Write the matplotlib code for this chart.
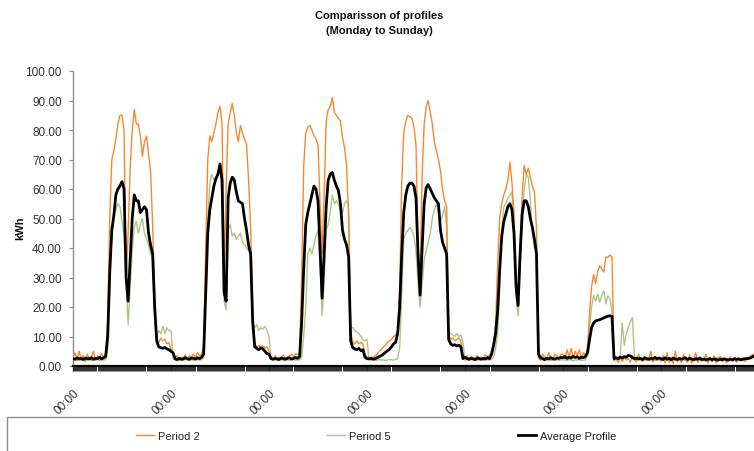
import matplotlib
matplotlib.use("Agg")
import matplotlib.pyplot as plt
from matplotlib.ticker import MultipleLocator, FixedLocator
from matplotlib.patches import Rectangle
import numpy as np

plt.rcParams['font.family'] = ['Liberation Sans', 'DejaVu Sans']

# Half-hourly values (48 per day), Monday .. Sunday
avg_mon = [2.5,2.3,2.8,2.4,2.6,2.2,2.7,2.5,2.4,2.8,2.3,2.6,2.5,2.9,2.4,2.8,
           3.2,10,32,46,51,58,60,61,62.5,60,30,22,36,50,58,56,56,52,53,54,53,45,41,38,20,8.5,6.5,6.2,6.0,6.3,5.8,5.5]
avg_tue = [5.0,4.5,2.5,2.2,2.6,2.3,2.4,2.8,2.5,2.3,2.7,2.6,2.4,2.8,2.5,3.0,
           4,25,45,53,57,61,63.5,65,68.5,63,25,22,57,62,64,63,59,56,55.5,55,50,46,41,38,15,6.5,6,5.5,6.2,5.8,5,4.2]
avg_wed = [4.0,2.5,2.3,2.6,2.4,2.2,2.7,2.5,2.3,2.6,2.8,2.4,2.5,2.9,2.6,3.2,
           15,33,48,52,55,58,61,60,56,40,23,38,54,63,65,65.6,63,61,59.5,55,46,43,41,37,8.6,6.2,5.8,5.5,6,5.2,5.5,3]
avg_thu = [2.5,2.4,2.6,2.3,2.5,2.8,3.2,3.5,4.0,4.6,5.2,5.6,6.5,7.5,8,11,
           20,38,52,58,61,62,62,61,57,38,24,40,55,60.5,61.5,60,58.5,57,56,55,46,42,40,38,9,7.5,7,7.2,6.8,7,6.5,2.5]
avg_fri = [3.0,2.5,2.3,2.6,2.4,2.2,2.7,2.5,2.3,2.6,2.4,2.8,2.5,4.0,7.0,11.0,
           19,33,44,49,51.5,54,55,53,45,27,20.5,38,51.5,56,56,54,50,47,43,38,4,2.8,2.5,2.2,2.6,2.4,2.8,2.5,2.3,2.7,2.6,2.9]
avg_sat = [2.8,3.2,2.6,3.0,2.7,3.3,2.9,3.1,2.6,3.0,2.8,3.2,4.5,9.0,13.0,14.6,
           15.3,15.5,15.7,16,16.3,16.6,16.9,17,16.8,2.5,2.8,2.5,3,2.7,3.2,3,3.6,3.4,2.8,2.5,2.7,2.4,2.6,2.2,2.8,2.5,2.3,2.6,2.4,2.9,2.5,2.7]
avg_sun = [2.5,2.2,2.8,2.3,2.6,2.1,2.7,2.4,2.2,2.6,2.3,2.5,2.8,2.2,2.6,2.4,
           2.1,2.5,2.3,2.7,2.2,2.4,2.0,2.3,2.5,2.1,2.4,2.2,2.0,2.3,2.1,2.4,2.2,2.0,2.3,2.1,2.5,2.2,2.4,2.1,2.3,2.5,2.4,2.6,2.8,3.2,3.5,3.4]

p2_mon = [3.0,4.5,2.0,5.0,2.5,3.5,1.5,4.0,2.5,3.2,5.0,2.0,3.5,2.5,4.2,3.0,
          4,15,50,70,73,77,82,85,85,80,28,45,67,80,87,82,82,78,71,76,78,72,66,48,24,9.5,8,9.5,8.5,9,7.5,8]
p2_tue = [5.5,4.0,2.5,3.5,2.0,3.0,2.5,3.8,2.2,3.5,2.8,4.0,3.0,4.5,3.5,4.0,
          7,40,70,78,76,79,82,86,88,82,31,60,82,86,89,85,79,76,81.5,79,77,75,63,47,20,7.5,6.5,7,6,6.8,6.2,6.5]
p2_wed = [5,3.0,2.5,3.5,2.2,3.0,2.6,3.8,2.5,3.0,3.5,4.0,3.2,4.2,3.8,4.5,
          30,68,79,81,81.5,80,78,77,75,55,38,58,83,87,88,91,86,85,84,83,77.5,74,68,50,12,8,7.5,8.5,7.5,8,7.5,4]
p2_thu = [3.0,2.5,3.2,2.8,3.5,4.0,5.0,5.5,6.5,7.0,8.0,8.5,9.0,10.0,10.5,12.0,
          25,62,79,83,85,84.5,84,81,75,40,29,65,82,88,90,86,82,76,73,70,66,60,56,54,11,9,9.5,8.5,9,9.5,8.5,3]
p2_fri = [2.5,3.5,2.0,3.2,2.8,2.2,3.5,2.6,3.0,2.4,3.8,3.2,3.5,5.0,8.0,14,
          35,50,55,58,60,63,69,62,52,25,21,41,58,68,65,67,64,61,59,47,3,2,4,3,2.5,4.5,3,2,4,3.5,2.5,4]
p2_sat = [4.0,2.5,5.5,3.0,6.0,2.8,5.0,3.5,5.5,2.5,4.5,3.5,6.0,18.0,27.0,31.0,
          28,32,34,33,31.8,37,36.8,37.6,37,1.8,2.5,1.2,2.8,1.5,3,2,2.5,1.2,3.5,2,1.5,4,2.2,1.5,3,1.8,2.5,5,1.5,2.2,1.8,3]
p2_sun = [1.5,3.5,1.0,4.5,1.2,2.8,0.8,5.0,1.5,3.0,1.0,4.0,2.0,1.2,3.8,0.9,
          2.5,4.5,1.2,3.0,1.5,2.2,4.0,1.0,2.8,1.5,3.5,1.0,2.0,3.2,1.4,2.6,1.0,2.2,3.0,1.5,2.4,1.2,2.8,1.8,2.2,1.5,3.0,2.4,3.5,3.8,4.2,4.0]

p5_mon = [2.0,2.2,1.8,2.1,2.0,2.3,1.9,2.0,2.2,1.8,2.1,2.0,2.2,1.9,2.1,2.0,
          2.2,6,25,45,51,53,55,54,49,44,30,14,27,39,47,49,45,48,50,45,43,41,38,37,15,10,12,11,13.5,11,13,12]
p5_tue = [12,2.5,2.0,1.8,2.1,2.0,1.9,2.2,2.0,1.8,2.1,2.0,1.9,2.2,2.0,2.1,
          3,25,50,62,65,63,64,66,68,58,22,19,46,48,44,45,43,44,45,42,41,40,39,38,14,13,14,12,13,12.5,13.5,12]
p5_wed = [10,2.5,2.0,2.1,1.9,2.0,2.2,1.8,2.0,2.1,1.9,2.0,2.2,2.0,2.1,2.0,
          3,10,20,38,40,38,41,44,46,35,17,28,46,48,52,58,55,56,55,53,52,55,56,55,13,13,12,11.5,11,10,9,8.5]
p5_thu = [9,2.2,2.0,2.1,1.9,2.0,2.2,2.0,2.1,1.9,2.0,2.2,2.1,2.0,2.3,2.5,
          6,25,43,45,46,47,46,44,39,28,20,28,36,39,42,45,50,53,55,52,49,51,54,47,12,11,10.5,10,11,10,10.5,8]
p5_fri = [2.0,2.1,1.9,2.2,2.0,1.8,2.1,2.0,2.2,1.9,2.0,2.1,2.0,2.3,3.0,6.0,
          11,25,45,54,55,57,58,59,45,24,17,34,50,60,65,64,56,45,40,43,2.5,2.0,2.2,1.8,2.0,2.1,1.9,2.0,2.2,2.0,1.9,2.1]
p5_sat = [2.0,2.1,1.9,2.2,2.0,1.8,2.1,2.0,2.2,1.9,2.0,2.1,4.0,13.7,20.0,24.0,
          22,24.4,21.6,24,25.5,21,23.8,22.7,18.5,2.5,3,2.8,3.5,14.5,7,11,13,15,16.5,3,2.2,2.0,2.1,1.9,2.0,2.2,2.0,1.8,2.1,2.0,1.9,2.0]
p5_sun = [2.0,2.1,1.9,2.0,2.2,1.8,2.0,2.1,1.9,2.0,2.2,2.0,1.9,2.1,2.0,1.8,
          2.2,2.0,2.1,1.9,2.0,2.2,2.1,2.3,2.4,2.5,2.6,2.8,2.9,3.0,2.8,2.7,2.6,2.5,2.4,2.3,2.2,2.1,2.0,2.2,2.1,2.3,2.2,2.5,2.7,2.9,3.1,3.0]

period2 = p2_mon + p2_tue + p2_wed + p2_thu + p2_fri + p2_sat + p2_sun
period5 = p5_mon + p5_tue + p5_wed + p5_thu + p5_fri + p5_sat + p5_sun
average = avg_mon + avg_tue + avg_wed + avg_thu + avg_fri + avg_sat + avg_sun

points_per_day = 48
day_tick_labels = ["00:00"] * 7
y_ticks = list(range(0, 101, 10))

W, H = 754, 452
fig = plt.figure(figsize=(W / 100, H / 100), dpi=100)
ax = fig.add_axes([73 / W, 1 - 367 / H, (759 - 73) / W, (367 - 72) / H])

x = np.arange(len(period2)) / points_per_day
ax.plot(x, period2, color='#F7882F', lw=1.0, label='Period 2', zorder=3)
ax.plot(x, period5, color='#A8C882', lw=1.0, label='Period 5', zorder=2)
ax.plot(x, average, color='#000000', lw=2.0, label='Average Profile', zorder=4)

ax.set_xlim(0, 7)
ax.set_ylim(0, 100)
ax.set_yticks(y_ticks)
ax.set_yticklabels([f"{v:.2f}" for v in y_ticks])
ax.xaxis.set_major_locator(FixedLocator(range(len(day_tick_labels))))
ax.set_xticklabels(day_tick_labels, rotation=45, ha='right', rotation_mode='anchor')
ax.xaxis.set_minor_locator(MultipleLocator(1 / (2 * points_per_day)))

for s in ['top', 'right']:
    ax.spines[s].set_visible(False)
ax.spines['left'].set_color('#8c8c8c')
ax.spines['left'].set_linewidth(1.0)
ax.spines['bottom'].set_color('#000000')
ax.spines['bottom'].set_linewidth(1.6)

ax.tick_params(axis='y', direction='out', length=3, width=0.8, color='#8c8c8c',
               labelsize=8.5, labelcolor='#333333', pad=5)
ax.tick_params(axis='x', which='major', direction='out', length=3.5, width=1.0, color='#222222',
               labelsize=8.5, labelcolor='#333333', pad=11)
ax.tick_params(axis='x', which='minor', direction='out', length=3.5, width=0.7, color='#2e2e2e')

fig.text(20 / W, 1 - 228 / H, 'kWh', rotation=90, ha='center', va='center',
         fontsize=8, fontweight='bold', color='#111111')
fig.text(379 / W, 1 - 16 / H, 'Comparisson of profiles', ha='center', va='center',
         fontsize=8, fontweight='bold', color='#111111')
fig.text(379 / W, 1 - 31 / H, '(Monday to Sunday)', ha='center', va='center',
         fontsize=8, fontweight='bold', color='#111111')

fig.patches.append(Rectangle((7 / W, -0.05), 1.0, 0.05 + (452 - 418) / H,
                             transform=fig.transFigure, fill=False,
                             edgecolor='#8c8c8c', lw=1.0))

fig.legend(loc='center left', bbox_to_anchor=(136 / W, 1 - 437 / H), ncol=3,
           frameon=False, fontsize=8, handlelength=1.6, handletextpad=0.35,
           columnspacing=11.5, borderpad=0, borderaxespad=0, labelcolor='#222222')

fig.savefig('out.png', dpi=100)
